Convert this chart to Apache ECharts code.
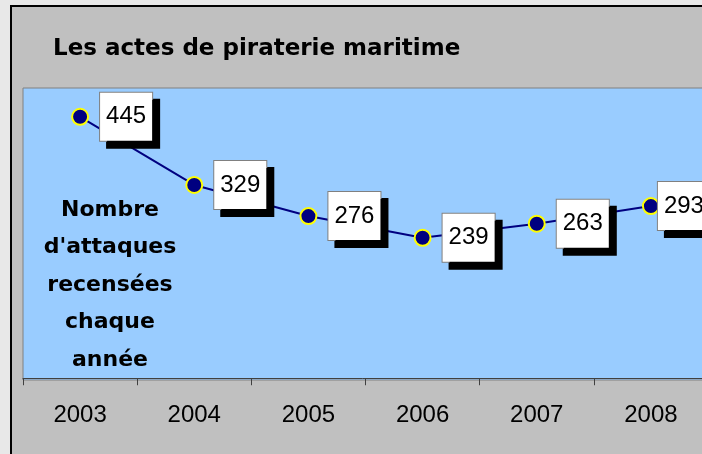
<!DOCTYPE html>
<html>
<head>
<meta charset="utf-8">
<script src="https://cdn.jsdelivr.net/npm/echarts@6/dist/echarts.min.js"></script>
<style>
html,body{margin:0;padding:0;background:#e8e8e8;}
#chart{width:702px;height:454px;}
</style>
</head>
<body>
<div id="chart"></div>
<script>
const titleText = 'Les actes de piraterie maritime';
const axisTitleLines = ['Nombre', "d'attaques", 'recensées', 'chaque', 'année'];
const years = ['2003', '2004', '2005', '2006', '2007', '2008'];
const attacks = [445, 329, 276, 239, 263, 293];

const chart = echarts.init(document.getElementById('chart'), null, {renderer: 'canvas'});

const seriesData = attacks.map((v, i) => i === attacks.length - 1
  ? {value: v, label: {distance: -2}}
  : v);

chart.setOption({
  animation: false,
  backgroundColor: '#e8e8e8',
  title: {
    text: titleText,
    left: 53,
    top: 38,
    padding: 0,
    textStyle: {fontFamily: 'DejaVu Sans', fontWeight: 'bold', fontSize: 23, color: '#000'}
  },
  graphic: [
    {
      type: 'rect', z: -10, silent: true,
      shape: {x: 11, y: 6, width: 900, height: 700},
      style: {fill: '#c0c0c0', stroke: '#000', lineWidth: 2}
    },
    {
      type: 'text', z: 10, silent: true,
      x: 110, y: 285,
      style: {
        text: axisTitleLines.join('\n'),
        fontFamily: 'DejaVu Sans', fontWeight: 'bold', fontSize: 22,
        lineHeight: 37.5, fill: '#000',
        align: 'center', verticalAlign: 'middle'
      }
    }
  ],
  grid: {
    left: 23, top: 88, right: -6, bottom: 74,
    outerBoundsMode: 'none',
    containLabel: false,
    show: true, backgroundColor: '#99ccff', borderColor: '#808080', borderWidth: 1
  },
  xAxis: {
    type: 'category',
    data: years,
    boundaryGap: true,
    axisLine: {lineStyle: {color: '#404040', width: 1}},
    axisTick: {show: true, length: 7, lineStyle: {color: '#404040'}},
    axisLabel: {fontFamily: 'Liberation Sans', fontSize: 24, color: '#000', margin: 23}
  },
  yAxis: {
    type: 'value',
    min: -3, max: 494,
    show: false,
    splitLine: {show: false}
  },
  series: [{
    type: 'line',
    data: seriesData,
    symbol: 'circle',
    symbolSize: 16,
    lineStyle: {color: '#000080', width: 2},
    itemStyle: {color: '#000080', borderColor: '#ffff00', borderWidth: 2},
    label: {
      show: true,
      position: 'right',
      distance: 11,
      fontFamily: 'Liberation Sans',
      fontSize: 24,
      lineHeight: 24,
      color: '#000',
      backgroundColor: '#fff',
      borderColor: '#808080',
      borderWidth: 1,
      padding: [12, 6],
      shadowColor: '#000',
      shadowBlur: 0,
      shadowOffsetX: 7,
      shadowOffsetY: 7
    }
  }]
});
</script>
</body>
</html>
